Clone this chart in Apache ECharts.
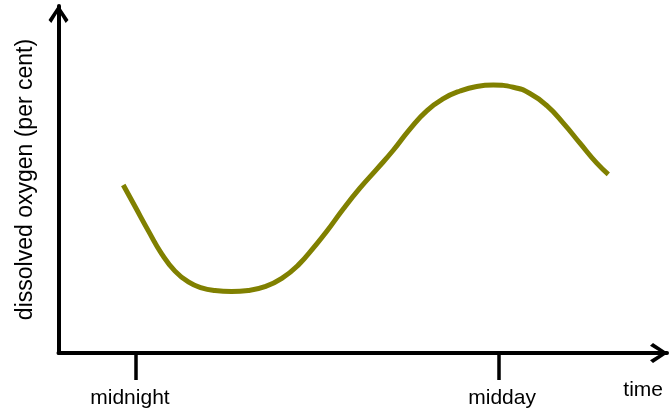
<!DOCTYPE html>
<html>
<head>
<meta charset="utf-8">
<script src="https://cdn.jsdelivr.net/npm/echarts@6/dist/echarts.min.js"></script>
<style>html,body{margin:0;padding:0;background:#fff;}#c{width:670px;height:411px;}</style>
</head>
<body>
<div id="c"></div>
<script>
// time in hours from midnight, dissolved oxygen (arbitrary per-cent scale)
const timeHours = [-0.42, -0.03, 0.41, 0.85, 1.29, 1.73, 2.17, 2.61, 3.16, 3.71, 4.26, 4.82, 5.37, 5.92, 6.30, 6.85, 7.40, 7.96, 8.51, 9.06, 9.61, 10.16, 10.71, 11.26, 11.81, 12.47, 13.02, 13.58, 14.13, 14.68, 15.23, 15.61];
const oxygen = [48.4, 42.2, 35.2, 28.6, 23.6, 20.5, 18.8, 18.0, 17.7, 18.0, 19.1, 21.5, 25.4, 30.9, 35.0, 41.5, 47.5, 53.0, 58.5, 64.6, 69.8, 73.3, 75.5, 76.8, 77.2, 76.6, 74.8, 71.3, 66.2, 60.4, 54.7, 51.5];
const tickHours = [0, 12];
const tickLabels = ['midnight', 'midday'];
const xName = 'time';
const yName = 'dissolved oxygen (per cent)';

const chevron = 'path://M100 0 L200 150 L172 180 L100 62 L28 180 L0 150 Z';
const font = 'Liberation Sans, Arial, sans-serif';

const chart = echarts.init(document.getElementById('c'));
chart.setOption({
  animation: false,
  backgroundColor: '#fff',
  grid: { left: 58.5, right: 3, top: 6, bottom: 58 },
  xAxis: {
    type: 'value', min: -2.56, max: 17.55,
    name: xName, nameLocation: 'end', nameGap: -4,
    nameTextStyle: { fontFamily: font, fontSize: 21, color: '#000', align: 'right', verticalAlign: 'top', padding: [27, 0, 0, 0] },
    splitLine: { show: false },
    axisLine: { onZero: false, symbol: ['none', chevron], symbolSize: [20, 18], symbolOffset: [0, -8],
      lineStyle: { color: '#000', width: 4 } },
    axisTick: { show: true, customValues: tickHours, length: 27, lineStyle: { color: '#000', width: 3.5 } },
    axisLabel: { show: true, customValues: tickHours, margin: 35,
      formatter: function (v) { const i = tickHours.indexOf(v); return i === 0 ? '{a|' + tickLabels[0] + '}' : '{b|' + tickLabels[i] + '}'; },
      rich: {
        a: { fontFamily: font, fontSize: 21, color: '#000', padding: [0, 12, 0, 0] },
        b: { fontFamily: font, fontSize: 21, color: '#000', padding: [0, 0, 0, 6] }
      } }
  },
  yAxis: {
    type: 'value', min: 0, max: 100,
    name: yName, nameLocation: 'middle', nameGap: 21,
    nameTextStyle: { fontFamily: font, fontSize: 23, color: '#000' },
    splitLine: { show: false },
    axisLabel: { show: false },
    axisTick: { show: false },
    axisLine: { show: true, onZero: false, symbol: ['none', chevron], symbolSize: [20, 18], symbolOffset: [0, -8],
      lineStyle: { color: '#000', width: 4 } }
  },
  series: [{
    type: 'line',
    data: timeHours.map((t, i) => [t, oxygen[i]]),
    smooth: 0.5,
    showSymbol: false,
    lineStyle: { color: '#808000', width: 5 },
    itemStyle: { color: '#808000' }
  }]
});
</script>
</body>
</html>
